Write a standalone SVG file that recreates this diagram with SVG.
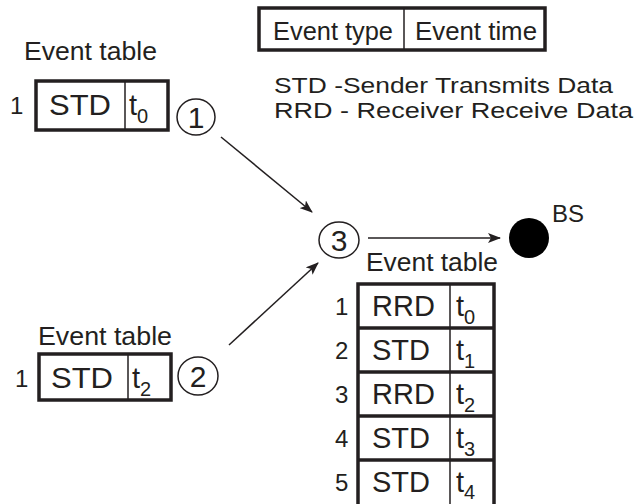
<svg xmlns="http://www.w3.org/2000/svg" width="637" height="504" viewBox="0 0 637 504">
  <defs>
    <marker id="arrow" viewBox="0 0 13 10" refX="12" refY="5" markerWidth="13" markerHeight="10" markerUnits="userSpaceOnUse" orient="auto">
      <path d="M0,0 L13,5 L0,10 L3,5 Z" fill="#231f20"/>
    </marker>
  </defs>
  <style>
    text { font-family: "Liberation Sans", Arial, sans-serif; fill: #231f20; }
    .lbl { font-size: 26px; }
    .key { font-size: 22px; }
    .cell { font-size: 29px; }
    .sub { font-size: 20px; }
    .num { font-size: 24px; }
    .digit { font-size: 30px; }
    .box { fill: #fff; stroke: #231f20; stroke-width: 3.5; }
    .rule { stroke: #231f20; stroke-width: 3.5; }
    .div { stroke: #231f20; stroke-width: 1.5; }
    .node { fill: #fff; stroke: #231f20; stroke-width: 1.5; }
    .conn { stroke: #231f20; stroke-width: 1.5; fill: none; marker-end: url(#arrow); }
  </style>
  <rect width="637" height="504" fill="#fff"/>

  <!-- legend: table format and abbreviations -->
  <g id="legend">
    <rect class="box" x="259" y="8" width="286" height="42" stroke-width="3"/>
    <line class="div" x1="404" y1="8" x2="404" y2="50"/>
    <text class="lbl" x="273" y="40" textLength="120" lengthAdjust="spacingAndGlyphs">Event type</text>
    <text class="lbl" x="415" y="40" textLength="122" lengthAdjust="spacingAndGlyphs">Event time</text>
    <text class="key" x="274" y="93" textLength="339" lengthAdjust="spacingAndGlyphs">STD -Sender Transmits Data</text>
    <text class="key" x="274" y="118" textLength="359" lengthAdjust="spacingAndGlyphs">RRD - Receiver Receive Data</text>
  </g>

  <!-- sender 1 event table -->
  <g id="table1">
    <text class="lbl" x="24" y="60" textLength="133" lengthAdjust="spacingAndGlyphs">Event table</text>
    <text class="num" x="10" y="114">1</text>
    <rect class="box" x="36" y="81" width="132" height="49"/>
    <line class="div" x1="125" y1="81" x2="125" y2="130"/>
    <text class="cell" x="49" y="115" textLength="62" lengthAdjust="spacingAndGlyphs">STD</text>
    <text class="cell" x="129" y="115">t<tspan class="sub" dy="8">0</tspan></text>
  </g>

  <!-- sender 2 event table -->
  <g id="table2">
    <text class="lbl" x="38" y="345" textLength="134" lengthAdjust="spacingAndGlyphs">Event table</text>
    <text class="num" x="15" y="387">1</text>
    <rect class="box" x="39" y="354" width="132" height="46"/>
    <line class="div" x1="128" y1="354" x2="128" y2="400"/>
    <text class="cell" x="51" y="388" textLength="62" lengthAdjust="spacingAndGlyphs">STD</text>
    <text class="cell" x="132" y="388">t<tspan class="sub" dy="8">2</tspan></text>
  </g>

  <!-- node 1 -->
  <g id="node1">
    <ellipse class="node" cx="196" cy="117" rx="19" ry="18"/>
    <text class="digit" x="196" y="128" text-anchor="middle">1</text>
  </g>

  <!-- node 2 -->
  <g id="node2">
    <ellipse class="node" cx="198" cy="376" rx="20" ry="19"/>
    <text class="digit" x="198" y="387" text-anchor="middle">2</text>
  </g>

  <!-- node 3 -->
  <g id="node3">
    <ellipse class="node" cx="339" cy="240" rx="20" ry="18"/>
    <text class="digit" x="339" y="251" text-anchor="middle">3</text>
  </g>

  <!-- base station -->
  <g id="bs">
    <circle cx="529" cy="238" r="20" fill="#000"/>
    <text class="num" x="552" y="222">BS</text>
  </g>

  <!-- node 3 merged event table (runs past the bottom edge) -->
  <g id="table3">
    <text class="lbl" x="366" y="271" textLength="132" lengthAdjust="spacingAndGlyphs">Event table</text>
    <rect class="box" x="358" y="284" width="136" height="230"/>
    <line class="div" x1="450" y1="284" x2="450" y2="514"/>
    <line class="rule" x1="358" y1="328" x2="494" y2="328"/>
    <line class="rule" x1="358" y1="372" x2="494" y2="372"/>
    <line class="rule" x1="358" y1="416" x2="494" y2="416"/>
    <line class="rule" x1="358" y1="460" x2="494" y2="460"/>
    <text class="num" x="335" y="315">1</text>
    <text class="num" x="335" y="359">2</text>
    <text class="num" x="335" y="403">3</text>
    <text class="num" x="335" y="447">4</text>
    <text class="num" x="335" y="491">5</text>
    <text class="cell" x="372" y="316">RRD</text>
    <text class="cell" x="372" y="360">STD</text>
    <text class="cell" x="372" y="404">RRD</text>
    <text class="cell" x="372" y="448">STD</text>
    <text class="cell" x="372" y="492">STD</text>
    <text class="cell" x="456" y="316">t<tspan class="sub" dy="8">0</tspan></text>
    <text class="cell" x="456" y="360">t<tspan class="sub" dy="8">1</tspan></text>
    <text class="cell" x="456" y="404">t<tspan class="sub" dy="8">2</tspan></text>
    <text class="cell" x="456" y="448">t<tspan class="sub" dy="8">3</tspan></text>
    <text class="cell" x="456" y="492">t<tspan class="sub" dy="7">4</tspan></text>
  </g>

  <!-- connectors -->
  <g id="connectors">
    <line class="conn" x1="221" y1="137" x2="312" y2="212"/>
    <line class="conn" x1="229" y1="345" x2="318" y2="263"/>
    <line class="conn" x1="368" y1="238" x2="500" y2="238"/>
  </g>
</svg>
